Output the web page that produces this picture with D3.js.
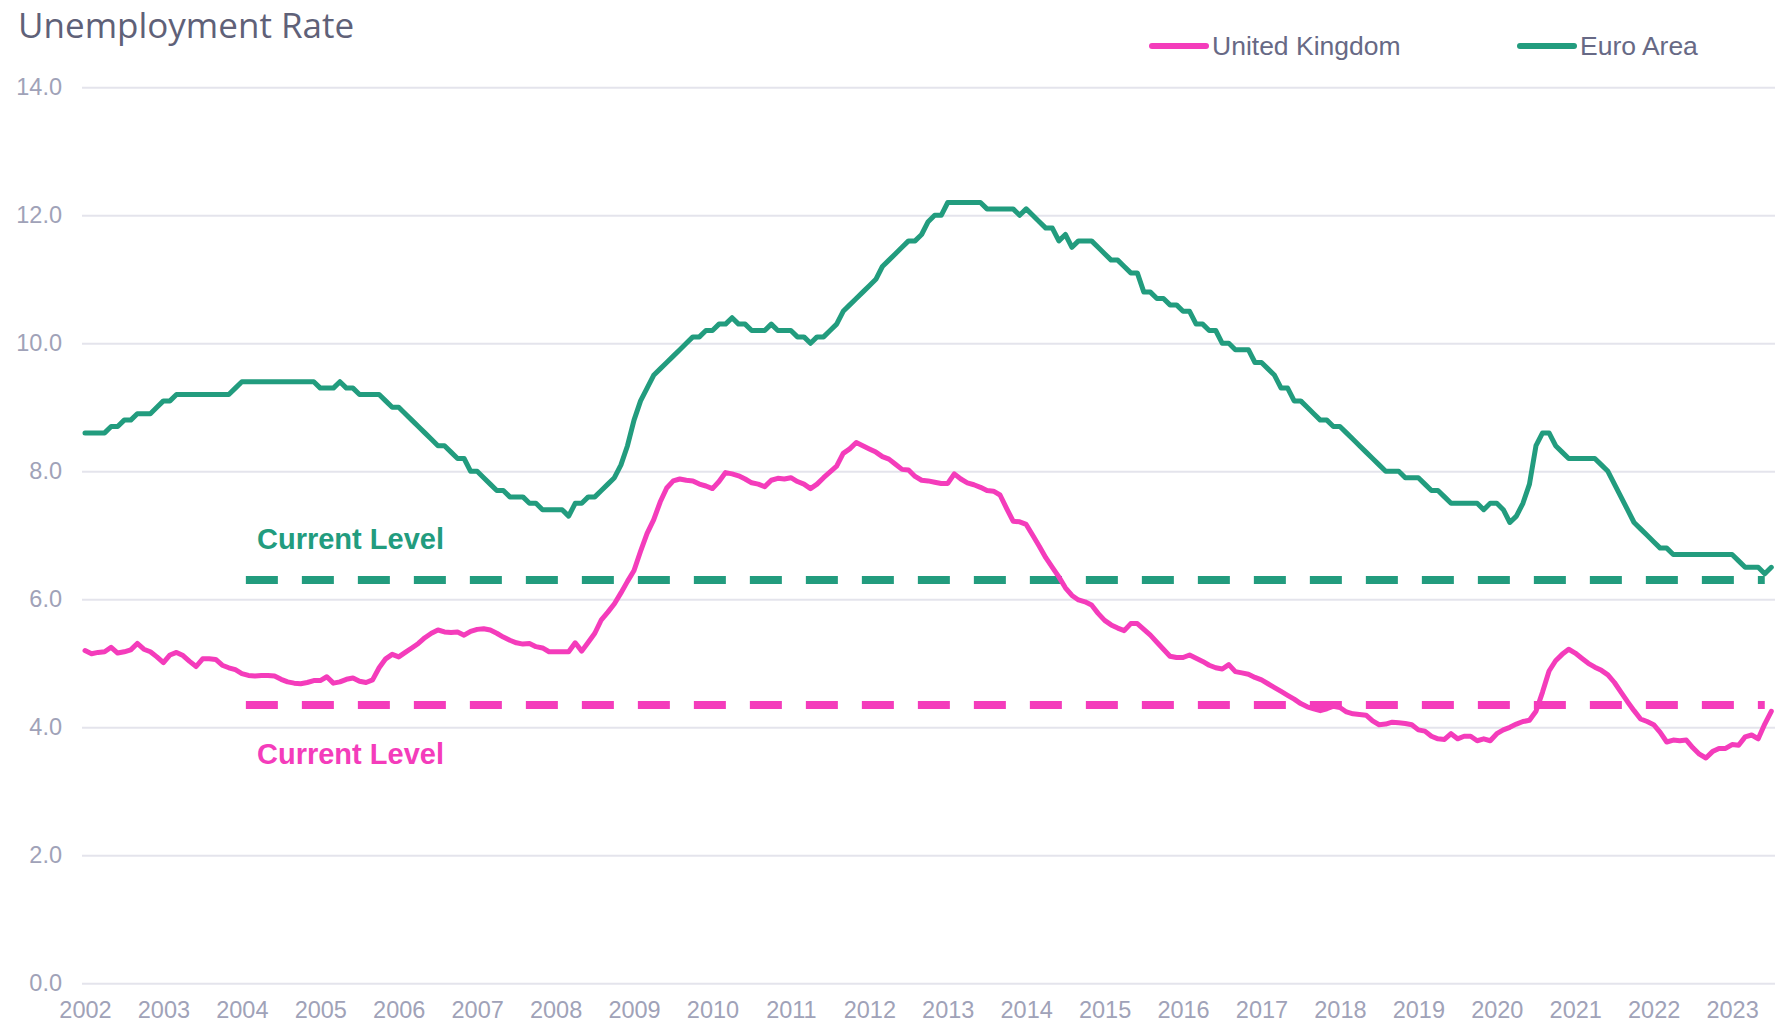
<!DOCTYPE html>
<html>
<head>
<meta charset="utf-8">
<script src="https://cdn.jsdelivr.net/npm/d3@7"></script>
<style>
  body { margin: 0; background: #ffffff; }
  svg { display: block; font-family: "Liberation Sans", Arial, sans-serif; }
</style>
</head>
<body>
<svg id="chart" width="1775" height="1023"></svg>
<script>
// monthly, Jan 2002 .. Jul 2023
const startYear = 2002;
const yearLabels = d3.range(2002, 2024);
const yTicks = [0, 2, 4, 6, 8, 10, 12, 14];

const ukRate = [
  5.20, 5.15, 5.17, 5.18, 5.25, 5.16, 5.18, 5.21, 5.31, 5.22, 5.18, 5.10, // 2002
  5.01, 5.13, 5.17, 5.12, 5.03, 4.95, 5.07, 5.07, 5.06, 4.97, 4.93, 4.90, // 2003
  4.84, 4.81, 4.80, 4.81, 4.81, 4.80, 4.75, 4.71, 4.69, 4.68, 4.70, 4.73, // 2004
  4.73, 4.79, 4.69, 4.71, 4.75, 4.77, 4.72, 4.70, 4.74, 4.93, 5.07, 5.14, // 2005
  5.10, 5.17, 5.24, 5.31, 5.40, 5.47, 5.52, 5.49, 5.48, 5.49, 5.44, 5.50, // 2006
  5.53, 5.54, 5.52, 5.47, 5.41, 5.36, 5.32, 5.30, 5.31, 5.26, 5.24, 5.18, // 2007
  5.18, 5.18, 5.18, 5.32, 5.19, 5.33, 5.47, 5.68, 5.80, 5.93, 6.10, 6.28, // 2008
  6.45, 6.75, 7.03, 7.24, 7.52, 7.74, 7.85, 7.88, 7.86, 7.85, 7.80, 7.77, // 2009
  7.73, 7.84, 7.98, 7.96, 7.93, 7.88, 7.82, 7.80, 7.76, 7.86, 7.89, 7.88, // 2010
  7.90, 7.84, 7.80, 7.73, 7.80, 7.90, 7.99, 8.08, 8.28, 8.35, 8.45, 8.40, // 2011
  8.35, 8.30, 8.23, 8.19, 8.11, 8.03, 8.02, 7.92, 7.86, 7.85, 7.83, 7.81, // 2012
  7.81, 7.96, 7.88, 7.82, 7.79, 7.75, 7.70, 7.69, 7.63, 7.42, 7.22, 7.21, // 2013
  7.17, 7.00, 6.83, 6.65, 6.50, 6.35, 6.18, 6.06, 5.99, 5.96, 5.91, 5.78, // 2014
  5.67, 5.60, 5.55, 5.51, 5.62, 5.62, 5.53, 5.44, 5.33, 5.22, 5.11, 5.09, // 2015
  5.09, 5.13, 5.08, 5.03, 4.97, 4.93, 4.91, 4.98, 4.87, 4.85, 4.83, 4.78, // 2016
  4.74, 4.68, 4.62, 4.56, 4.50, 4.44, 4.37, 4.32, 4.29, 4.26, 4.29, 4.33, // 2017
  4.31, 4.24, 4.21, 4.20, 4.19, 4.10, 4.04, 4.05, 4.08, 4.07, 4.06, 4.04, // 2018
  3.96, 3.94, 3.86, 3.82, 3.81, 3.90, 3.82, 3.86, 3.86, 3.79, 3.82, 3.79, // 2019
  3.90, 3.96, 4.00, 4.05, 4.09, 4.11, 4.25, 4.55, 4.88, 5.04, 5.14, 5.22, // 2020
  5.16, 5.08, 5.00, 4.94, 4.89, 4.82, 4.70, 4.55, 4.40, 4.26, 4.13, 4.09, // 2021
  4.04, 3.92, 3.77, 3.80, 3.79, 3.80, 3.68, 3.58, 3.52, 3.62, 3.67, 3.67, // 2022
  3.73, 3.72, 3.85, 3.88, 3.82, 4.05, 4.25                                // 2023
];

const euroRate = [
  8.6, 8.6, 8.6, 8.6, 8.7, 8.7, 8.8, 8.8, 8.9, 8.9, 8.9, 9.0,             // 2002
  9.1, 9.1, 9.2, 9.2, 9.2, 9.2, 9.2, 9.2, 9.2, 9.2, 9.2, 9.3,             // 2003
  9.4, 9.4, 9.4, 9.4, 9.4, 9.4, 9.4, 9.4, 9.4, 9.4, 9.4, 9.4,             // 2004
  9.3, 9.3, 9.3, 9.4, 9.3, 9.3, 9.2, 9.2, 9.2, 9.2, 9.1, 9.0,             // 2005
  9.0, 8.9, 8.8, 8.7, 8.6, 8.5, 8.4, 8.4, 8.3, 8.2, 8.2, 8.0,             // 2006
  8.0, 7.9, 7.8, 7.7, 7.7, 7.6, 7.6, 7.6, 7.5, 7.5, 7.4, 7.4,             // 2007
  7.4, 7.4, 7.3, 7.5, 7.5, 7.6, 7.6, 7.7, 7.8, 7.9, 8.1, 8.4,             // 2008
  8.8, 9.1, 9.3, 9.5, 9.6, 9.7, 9.8, 9.9, 10.0, 10.1, 10.1, 10.2,         // 2009
  10.2, 10.3, 10.3, 10.4, 10.3, 10.3, 10.2, 10.2, 10.2, 10.3, 10.2, 10.2, // 2010
  10.2, 10.1, 10.1, 10.0, 10.1, 10.1, 10.2, 10.3, 10.5, 10.6, 10.7, 10.8, // 2011
  10.9, 11.0, 11.2, 11.3, 11.4, 11.5, 11.6, 11.6, 11.7, 11.9, 12.0, 12.0, // 2012
  12.2, 12.2, 12.2, 12.2, 12.2, 12.2, 12.1, 12.1, 12.1, 12.1, 12.1, 12.0, // 2013
  12.1, 12.0, 11.9, 11.8, 11.8, 11.6, 11.7, 11.5, 11.6, 11.6, 11.6, 11.5, // 2014
  11.4, 11.3, 11.3, 11.2, 11.1, 11.1, 10.8, 10.8, 10.7, 10.7, 10.6, 10.6, // 2015
  10.5, 10.5, 10.3, 10.3, 10.2, 10.2, 10.0, 10.0, 9.9, 9.9, 9.9, 9.7,     // 2016
  9.7, 9.6, 9.5, 9.3, 9.3, 9.1, 9.1, 9.0, 8.9, 8.8, 8.8, 8.7,             // 2017
  8.7, 8.6, 8.5, 8.4, 8.3, 8.2, 8.1, 8.0, 8.0, 8.0, 7.9, 7.9,             // 2018
  7.9, 7.8, 7.7, 7.7, 7.6, 7.5, 7.5, 7.5, 7.5, 7.5, 7.4, 7.5,             // 2019
  7.5, 7.4, 7.2, 7.3, 7.5, 7.8, 8.4, 8.6, 8.6, 8.4, 8.3, 8.2,             // 2020
  8.2, 8.2, 8.2, 8.2, 8.1, 8.0, 7.8, 7.6, 7.4, 7.2, 7.1, 7.0,             // 2021
  6.9, 6.8, 6.8, 6.7, 6.7, 6.7, 6.7, 6.7, 6.7, 6.7, 6.7, 6.7,             // 2022
  6.7, 6.6, 6.5, 6.5, 6.5, 6.4, 6.5                                       // 2023
];

const seriesNames = ["United Kingdom", "Euro Area"];
const seriesColors = ["#f43cbb", "#229c7e"];
const currentLevels = [4.35, 6.3];     // uk, euro
const levelMonths = [24, 257];         // dashed reference from Jan 2004 to last month

const width = 1775, height = 1023;
const svg = d3.select("#chart");

const x = d3.scaleLinear().domain([0, 258]).range([85, 1771.3]);
const y = d3.scaleLinear().domain([0, 14]).range([983.3, 87.3]);

// title
svg.append("text")
    .attr("x", 18).attr("y", 38)
    .attr("font-family", "'Open Sans', sans-serif")
    .attr("font-size", 35)
    .attr("fill", "#5f6178")
    .text("Unemployment Rate");

// y axis with gridlines
const yAxis = svg.append("g")
    .attr("transform", "translate(82,0)")
    .call(d3.axisLeft(y).tickValues(yTicks).tickFormat(d3.format(".1f"))
        .tickSize(-(width - 82)).tickPadding(20));
yAxis.select(".domain").remove();
yAxis.selectAll(".tick line").attr("stroke", "#e4e4ec").attr("stroke-width", 2);
yAxis.selectAll(".tick text")
    .attr("font-size", 23.5)
    .attr("fill", "#a0a2b8");

// x axis labels
const xAxis = svg.append("g")
    .attr("transform", "translate(0,983)")
    .call(d3.axisBottom(x).tickValues(yearLabels.map((yr, i) => i * 12))
        .tickFormat(m => startYear + m / 12).tickSize(0).tickPadding(18));
xAxis.select(".domain").remove();
xAxis.selectAll(".tick text")
    .attr("font-size", 23.5)
    .attr("fill", "#a0a2b8");

// current level dashed lines
currentLevels.forEach((lvl, k) => {
    svg.append("line")
        .attr("x1", x(levelMonths[0]) + 4).attr("x2", x(levelMonths[1]))
        .attr("y1", y(lvl)).attr("y2", y(lvl))
        .attr("stroke", seriesColors[k])
        .attr("stroke-width", 8)
        .attr("stroke-dasharray", "32 24");
});

// current level labels
svg.append("text")
    .attr("x", 257).attr("y", y(currentLevels[1]) - 31)
    .attr("font-size", 29).attr("font-weight", "bold")
    .attr("fill", seriesColors[1])
    .text("Current Level");
svg.append("text")
    .attr("x", 257).attr("y", y(currentLevels[0]) + 59)
    .attr("font-size", 29).attr("font-weight", "bold")
    .attr("fill", seriesColors[0])
    .text("Current Level");

// series lines
const line = d3.line().x((d, i) => x(i)).y(d => y(d));
[ukRate, euroRate].forEach((series, k) => {
    svg.append("path")
        .datum(series)
        .attr("fill", "none")
        .attr("stroke", seriesColors[k])
        .attr("stroke-width", 5)
        .attr("stroke-linejoin", "round")
        .attr("stroke-linecap", "round")
        .attr("d", line);
});

// legend
const legendX = [1152, 1520];
const legend = svg.append("g").selectAll("g")
    .data(seriesNames)
    .join("g")
    .attr("transform", (d, i) => `translate(${legendX[i]},46)`);
legend.append("line")
    .attr("x1", 0).attr("x2", 54)
    .attr("stroke", (d, i) => seriesColors[i])
    .attr("stroke-width", 6)
    .attr("stroke-linecap", "round");
legend.append("text")
    .attr("x", 60).attr("y", 8.5)
    .attr("font-size", 26.5)
    .attr("fill", "#676985")
    .text(d => d);
</script>
</body>
</html>
